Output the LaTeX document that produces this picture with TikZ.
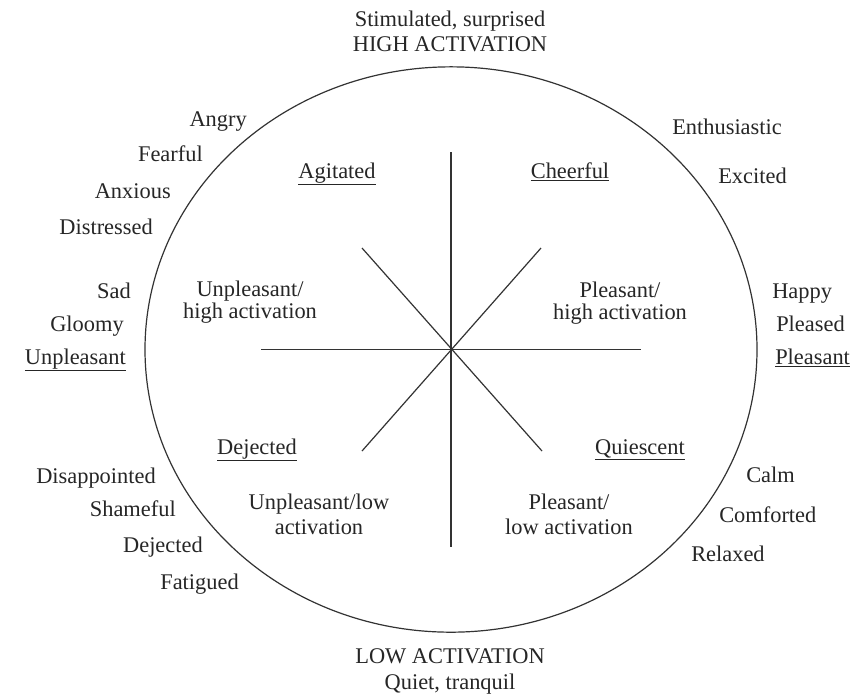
\documentclass[tikz,border=0pt]{standalone}
\usepackage{fontspec}
\setmainfont{Liberation Serif}
\usetikzlibrary{shapes.geometric}
\begin{document}
\begin{tikzpicture}[x=0.75pt,y=-0.75pt,
  lbl/.style={inner sep=0pt,font=\fontsize{16.8}{19}\selectfont,text=black!85},
  lft/.style={lbl,anchor=base east},
  rgt/.style={lbl,anchor=base west},
  mid/.style={lbl,anchor=base},
  two/.style={lbl,align=center,anchor=center},
  axis/.style={line width=0.9pt,black!80},
  rim/.style={draw=black!80,line width=0.9pt,ellipse,inner sep=0pt,minimum width=459pt,minimum height=424pt}]
\useasboundingbox (0,0) rectangle (866,694);
\fill[white] (0,0) rectangle (866,694);
% circle
\node[rim] (e) at (451,349.5) {};
% axes
\coordinate (c) at (451,349.5);
\coordinate (vt) at (451,152);
\coordinate (vb) at (451,547);
\coordinate (hl) at (261,349.5);
\coordinate (hr) at (641,349.5);
\coordinate (ul) at (362,248);
\coordinate (ur) at (541,248);
\coordinate (ll) at (362,451);
\coordinate (lr) at (542,451);
\draw[axis] (vt) -- (vb);
\draw[axis] (hl) -- (hr);
\draw[axis] (ul) -- (lr);
\draw[axis] (ur) -- (ll);
% top / bottom
\node[mid] (stim) at (450,26) {Stimulated, surprised};
\node[mid] (high) at (450,51) {HIGH ACTIVATION};
\node[mid] (low) at (450,663) {LOW ACTIVATION};
\node[mid] (quiet) at (450,689) {Quiet, tranquil};
% left side
\node[lft] (angry) at (247,126) {Angry};
\node[lft] (fearful) at (203,161) {Fearful};
\node[lft] (anxious) at (171,198) {Anxious};
\node[lft] (distressed) at (153,234) {Distressed};
\node[lft] (sad) at (131,298) {Sad};
\node[lft] (gloomy) at (124,331) {Gloomy};
\node[lft] (unpl) at (126,364) {\underline{Unpleasant}};
\node[lft] (disapp) at (156,483) {Disappointed};
\node[lft] (shame) at (176,516) {Shameful};
\node[lft] (deject) at (203,552) {Dejected};
\node[lft] (fatig) at (239,589) {Fatigued};
% right side
\node[rgt] (enth) at (672,134) {Enthusiastic};
\node[rgt] (excit) at (718,183) {Excited};
\node[rgt] (happy) at (772,298) {Happy};
\node[rgt] (pleased) at (776,331) {Pleased};
\node[rgt] (pleas) at (775,364) {\underline{Pleasant}};
\node[rgt] (calm) at (746,482) {Calm};
\node[rgt] (comf) at (719,522) {Comforted};
\node[rgt] (relax) at (691,561) {Relaxed};
% inner quadrant names
\node[mid] (agit) at (337,178) {\underline{Agitated}};
\node[mid] (cheer) at (570,178) {\underline{Cheerful}};
\node[mid] (dejq) at (257,454) {\underline{Dejected}};
\node[mid] (quies) at (640,454) {\underline{Quiescent}};
% inner two-line labels
\node[two,font=\fontsize{16.8}{16}\selectfont] (uh) at (250,302) {Unpleasant/\\high activation};
\node[two,font=\fontsize{16.8}{16}\selectfont] (ph) at (620,303) {Pleasant/\\high activation};
\node[two,font=\fontsize{16.8}{19}\selectfont] (ul2) at (319,514) {Unpleasant/low\\activation};
\node[two,font=\fontsize{16.8}{19}\selectfont] (pl2) at (569,514) {Pleasant/\\low activation};
\end{tikzpicture}
\end{document}
